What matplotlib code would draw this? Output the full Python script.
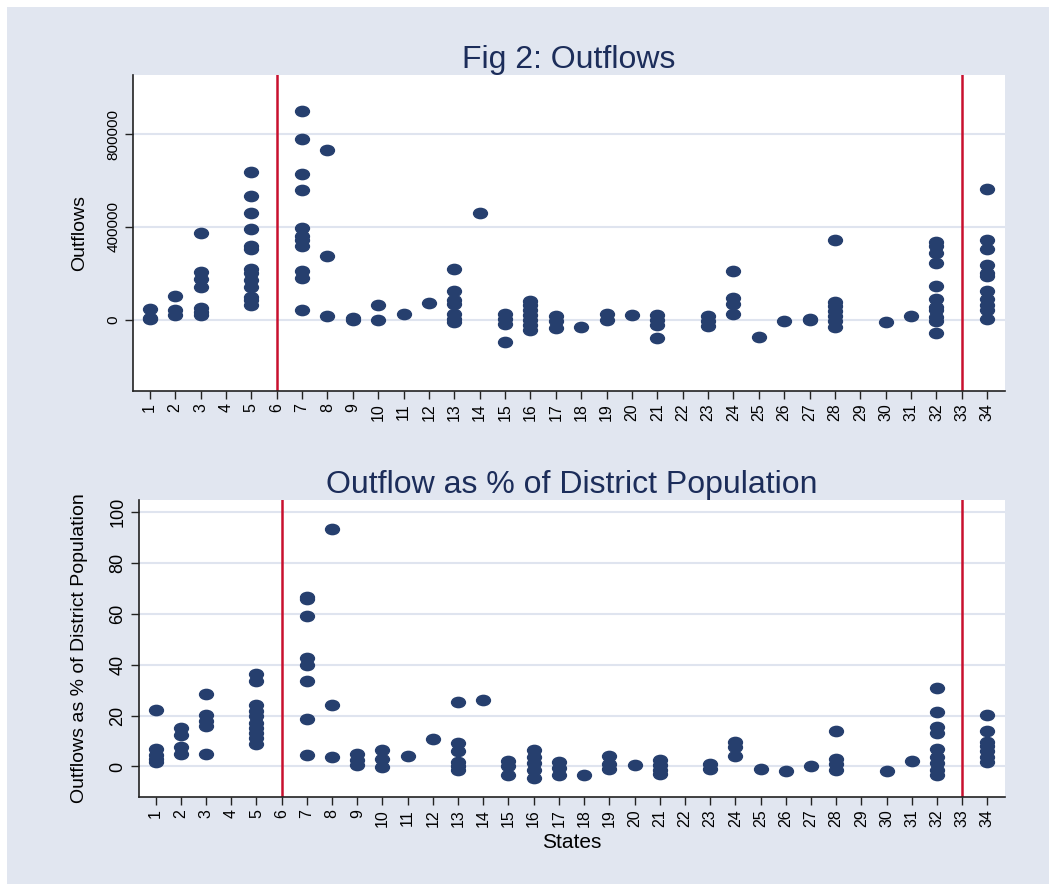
import numpy as np
import matplotlib
matplotlib.use("Agg")
import matplotlib.pyplot as plt
from matplotlib.path import Path
from matplotlib.patches import Rectangle
from matplotlib.transforms import Affine2D

plt.rcParams['font.family'] = ['Liberation Sans', 'DejaVu Sans']

# ---- data ----
outflows = {
    1: [46000, 8000, 2000],
    2: [103000, 44500, 23000],
    3: [372000, 207000, 174000, 141000, 53000, 34000, 20000],
    5: [638000, 534000, 462000, 393000, 320000, 303000, 217000, 200000,
        171000, 142000, 99000, 85000, 66000],
    7: [899000, 778000, 626000, 559000, 395000, 362000, 343000, 319000,
        210000, 182000, 42000],
    8: [730000, 274000, 17000],
    9: [10000, 1500],
    10: [65000, -1500],
    11: [24000],
    12: [73000],
    13: [217000, 126000, 85000, 70000, 27000, 6000, -9000],
    14: [461000],
    15: [27000, 6000, -16000, -95000],
    16: [80000, 63000, 42000, 20000, -1500, -23000, -42000],
    17: [16000, -4000, -33000],
    18: [-32000],
    19: [24000, 1500],
    20: [22000],
    21: [23000, 1500, -23000, -80000],
    23: [16000, -4000, -26000],
    24: [210000, 95000, 70000, 27000],
    25: [-73000],
    26: [-3000],
    27: [3000, -2000],
    28: [346000, 78000, 59000, 39000, 16000, -4000, -30000],
    30: [-10000],
    31: [16000],
    32: [336000, 319000, 287000, 246000, 144000, 90000, 56000, 42000,
         13000, -4000, -55000],
    34: [563000, 346000, 303000, 236000, 202000, 188000, 123000, 92000,
         63000, 42000, 6000],
}

outflow_pct = {
    1: [22.3, 6.8, 4.6, 2.9, 1.6],
    2: [15.1, 12.5, 7.5, 4.8],
    3: [28.4, 20.1, 18.0, 16.1, 5.0],
    5: [36.3, 33.7, 24.2, 22.0, 19.7, 17.0, 15.1, 13.1, 11.1, 8.9],
    7: [66.8, 65.8, 59.0, 42.6, 40.0, 33.7, 18.6, 4.6],
    8: [93.3, 24.1, 3.7],
    9: [5.0, 2.4, 0.4],
    10: [6.3, 2.9, -0.3],
    11: [4.3],
    12: [10.7],
    13: [25.4, 9.2, 6.2, 1.6, 0.3, -1.3],
    14: [26.2],
    15: [2.0, 0.0, -3.3],
    16: [6.6, 3.9, 1.3, -1.3, -4.6],
    17: [1.6, -0.4, -3.5],
    18: [-3.5],
    19: [4.3, 1.0, -0.9],
    20: [0.7],
    21: [2.6, 0.7, -1.3, -3.0],
    23: [1.0, -1.0],
    24: [9.8, 7.6, 4.2],
    25: [-0.8],
    26: [-1.7],
    27: [0.0],
    28: [13.8, 2.9, 1.0, -1.3],
    30: [-1.6],
    31: [2.2],
    32: [30.8, 21.5, 15.5, 13.1, 6.8, 3.9, 1.3, -1.3, -3.3],
    34: [20.3, 13.8, 9.8, 7.9, 5.9, 3.7, 1.6],
}

states = list(range(1, 35))
cutoff_states = [6, 33]
top_yticks = [0, 400000, 800000]
bottom_yticks = [0, 20, 40, 60, 80, 100]

navy = '#263f6e'
title_col = '#1c2d5a'
red = '#c8102e'
bg = '#e1e6f0'
grid_col = '#dfe4ef'

# stretched ellipse marker, like the original
ellipse = Path.unit_circle().transformed(Affine2D().scale(1.35, 1.0))

fig = plt.figure(figsize=(10.49, 8.84), dpi=100, facecolor='white')
fig.patches.append(Rectangle((7 / 1049, 0), 1, 1 - 7 / 884,
                             transform=fig.transFigure, facecolor=bg,
                             edgecolor='none', zorder=-10))

ax1 = fig.add_axes([133 / 1049, 1 - 391 / 884, 872 / 1049, 316 / 884])
ax2 = fig.add_axes([139 / 1049, 1 - 797 / 884, 866 / 1049, 297 / 884])


def scatter_panel(ax, data, yticks, ylim, ylabel, ytick_size, ylab_size):
    xs, ys = [], []
    for s, vals in data.items():
        xs += [s] * len(vals)
        ys += vals
    ax.plot(xs, ys, ls='none', marker=ellipse, ms=10, color=navy,
            mec=navy, zorder=3)
    for c in cutoff_states:
        ax.axvline(c, color=red, lw=1.8, zorder=2)
    ax.set_xlim(0.34, 34.7)
    ax.set_ylim(*ylim)
    ax.set_xticks(states)
    ax.set_xticklabels([str(s) for s in states], rotation=90, fontsize=11.5)
    ax.set_yticks(yticks)
    ax.set_yticklabels([str(t) for t in yticks], rotation=90, va='center',
                       fontsize=ytick_size)
    ax.grid(axis='y', color=grid_col, lw=1.5, zorder=0)
    ax.set_axisbelow(True)
    for side in ['top', 'right']:
        ax.spines[side].set_visible(False)
    for side in ['left', 'bottom']:
        ax.spines[side].set_color('#222222')
        ax.spines[side].set_linewidth(1.2)
    ax.tick_params(direction='out', length=6, width=1, color='#222222',
                   pad=3)
    ax.set_ylabel(ylabel, fontsize=ylab_size)
    ax.set_facecolor('white')


scatter_panel(ax1, outflows, top_yticks, (-306000, 1054000), 'Outflows',
              11, 14)
scatter_panel(ax2, outflow_pct, bottom_yticks, (-12, 104.8),
              'Outflows as % of District Population', 13, 14)

ax1.yaxis.set_label_coords(-0.052, 0.5)
ax2.yaxis.set_label_coords(-0.059, 0.5)

ax1.set_title('Fig 2: Outflows', fontsize=23, color=title_col, pad=5)
ax2.set_title('Outflow as % of District Population', fontsize=23,
              color=title_col, pad=5)
ax2.set_xlabel('States', fontsize=15, labelpad=4)

fig.savefig('out.png', dpi=100, facecolor='white')
